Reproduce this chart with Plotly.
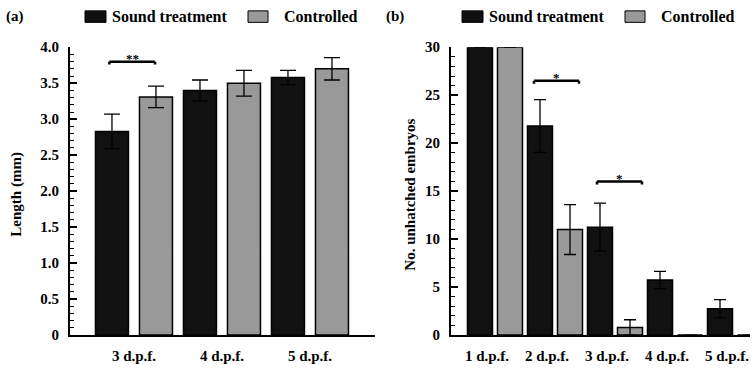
import plotly.graph_objects as go

# ---------------- data ----------------
days_a = ["3 d.p.f.", "4 d.p.f.", "5 d.p.f."]
length_sound = [2.83, 3.40, 3.58]
length_sound_err = [0.24, 0.145, 0.10]
length_ctrl = [3.31, 3.50, 3.70]
length_ctrl_err = [0.15, 0.18, 0.155]

days_b = ["1 d.p.f.", "2 d.p.f.", "3 d.p.f.", "4 d.p.f.", "5 d.p.f."]
unhatched_sound = [30, 21.8, 11.25, 5.75, 2.75]
unhatched_sound_err = [None, 2.75, 2.5, 0.9, 0.95]
unhatched_ctrl = [30, 11.0, 0.8, 0, 0]
unhatched_ctrl_err = [None, 2.6, 0.8, None, None]

yticks_a = [0, 0.5, 1.0, 1.5, 2.0, 2.5, 3.0, 3.5, 4.0]
yticktext_a = ["0", "0.5", "1.0", "1.5", "2.0", "2.5", "3.0", "3.5", "4.0"]
yticks_b = [0, 5, 10, 15, 20, 25, 30]

# significance brackets: (axis, x_start, x_end, y, label)
brackets = [
    ("a", -0.28, 0.24, 3.80, "**"),
    ("b", 0.65, 1.40, 26.5, "*"),
    ("b", 1.70, 2.45, 16.0, "*"),
]

BLACK = "#111111"
GRAY = "#999999"
FONT = "Liberation Serif"
W, H = 754, 374

def px(x):
    return x / W

def py(y):
    return 1 - y / H

fig = go.Figure()

err_common = dict(type="data", color="black", thickness=1.3)

# panel (a)
fig.add_trace(go.Bar(x=days_a, y=length_sound, name="Sound treatment",
                     width=0.375, offset=-0.4375,
                     marker=dict(color=BLACK, line=dict(color="black", width=1.5)),
                     error_y=dict(array=length_sound_err, width=8, **err_common),
                     xaxis="x", yaxis="y", showlegend=False))
fig.add_trace(go.Bar(x=days_a, y=length_ctrl, name="Controlled",
                     width=0.375, offset=0.0625,
                     marker=dict(color=GRAY, line=dict(color="black", width=1.5)),
                     error_y=dict(array=length_ctrl_err, width=8, **err_common),
                     xaxis="x", yaxis="y", showlegend=False))
# panel (b)
fig.add_trace(go.Bar(x=days_b, y=unhatched_sound, name="Sound treatment",
                     width=0.4167, offset=-0.4583,
                     marker=dict(color=BLACK, line=dict(color="black", width=1.5)),
                     error_y=dict(array=unhatched_sound_err, width=6, **err_common),
                     xaxis="x2", yaxis="y2", showlegend=False))
fig.add_trace(go.Bar(x=days_b, y=unhatched_ctrl, name="Controlled",
                     width=0.4167, offset=0.0417,
                     marker=dict(color=GRAY, line=dict(color="black", width=1.5)),
                     error_y=dict(array=unhatched_ctrl_err, width=6, **err_common),
                     xaxis="x2", yaxis="y2", showlegend=False))

tickfont = dict(family=FONT, size=15, color="black", weight="bold")
yaxis_common = dict(showline=True, linewidth=2, linecolor="black", showgrid=False,
                    zeroline=False, ticks="inside", ticklen=7, tickwidth=1.5,
                    tickcolor="black", tickfont=tickfont, ticklabelstandoff=6)
xaxis_common = dict(showline=True, linewidth=2, linecolor="black", showgrid=False,
                    zeroline=False, ticks="", tickfont=tickfont, type="category",
                    ticklabelstandoff=6)

fig.update_layout(
    width=W, height=H,
    margin=dict(l=0, r=0, t=0, b=0),
    paper_bgcolor="white", plot_bgcolor="white",
    barmode="overlay",
    font=dict(family=FONT, color="black"),
    xaxis=dict(domain=[px(70), px(375)], range=[-0.727, 2.739], anchor="y", **xaxis_common),
    yaxis=dict(domain=[py(341.7), py(41)], range=[0, 4], anchor="x",
               tickmode="array", tickvals=yticks_a, ticktext=yticktext_a,
               minor=dict(tickmode="linear", tick0=0, dtick=0.1, ticks="inside",
                          ticklen=4, tickwidth=1, tickcolor="black"),
               **yaxis_common),
    xaxis2=dict(domain=[px(451), px(750)], range=[-0.733, 4.25], anchor="y2",
                ticklabelshift=-8, **xaxis_common),
    yaxis2=dict(domain=[py(341.7), py(41)], range=[0, 30], anchor="x2",
                tickmode="array", tickvals=yticks_b,
                minor=dict(tickmode="linear", tick0=0, dtick=1, ticks="inside",
                           ticklen=4, tickwidth=1, tickcolor="black"),
                **yaxis_common),
)

shapes = []
annotations = []

# brackets
for ax, x0, x1, y, label in brackets:
    xr = "x" if ax == "a" else "x2"
    yr = "y" if ax == "a" else "y2"
    dy = 0.04 if ax == "a" else 0.3
    shapes.append(dict(type="line", xref=xr, yref=yr, x0=x0, x1=x1, y0=y, y1=y,
                       line=dict(color="black", width=2.5)))
    for xe in (x0, x1):
        shapes.append(dict(type="line", xref=xr, yref=yr, x0=xe, x1=xe, y0=y, y1=y - dy,
                           line=dict(color="black", width=2.5)))
    annotations.append(dict(xref=xr, yref=yr, x=(x0 + x1) / 2, y=y, text=label,
                            showarrow=False, yanchor="bottom", yshift=-6,
                            font=dict(family=FONT, size=13, color="black", weight="bold")))

# manual legends and panel letters
legend_font = dict(family=FONT, size=16, color="black", weight="bold")
for (lbl, lx, k_b, t_b, k_g, t_g) in [
    ("(a)", 4, (85, 106), 110, (248, 268), 282),
    ("(b)", 384, (462, 483), 487, (625, 645), 659),
]:
    annotations.append(dict(xref="paper", yref="paper", x=px(lx), y=py(9), text=lbl,
                            showarrow=False, xanchor="left", yanchor="middle",
                            font=dict(family=FONT, size=15, color="black", weight="bold")))
    shapes.append(dict(type="rect", xref="paper", yref="paper", x0=px(k_b[0]), x1=px(k_b[1]),
                       y0=py(15), y1=py(3), fillcolor=BLACK, line=dict(color="black", width=1)))
    annotations.append(dict(xref="paper", yref="paper", x=px(t_b), y=py(9),
                            text="Sound treatment", showarrow=False, xanchor="left",
                            yanchor="middle", font=legend_font))
    shapes.append(dict(type="rect", xref="paper", yref="paper", x0=px(k_g[0]), x1=px(k_g[1]),
                       y0=py(15), y1=py(3), fillcolor=GRAY, line=dict(color="black", width=1)))
    annotations.append(dict(xref="paper", yref="paper", x=px(t_g), y=py(9),
                            text="Controlled", showarrow=False, xanchor="left",
                            yanchor="middle", font=legend_font))

# axis titles
annotations.append(dict(xref="paper", yref="paper", x=px(17), y=py(195), text="Length (mm)",
                        textangle=-90, showarrow=False, xanchor="center", yanchor="middle",
                        font=dict(family=FONT, size=15, color="black", weight="bold")))
annotations.append(dict(xref="paper", yref="paper", x=px(410), y=py(195),
                        text="No. unhatched embryos",
                        textangle=-90, showarrow=False, xanchor="center", yanchor="middle",
                        font=dict(family=FONT, size=15, color="black", weight="bold")))

fig.update_layout(shapes=shapes, annotations=annotations)

fig.write_html("out.html", config={"displayModeBar": False},
               post_script="document.body.style.margin='0';document.body.style.padding='0';")
